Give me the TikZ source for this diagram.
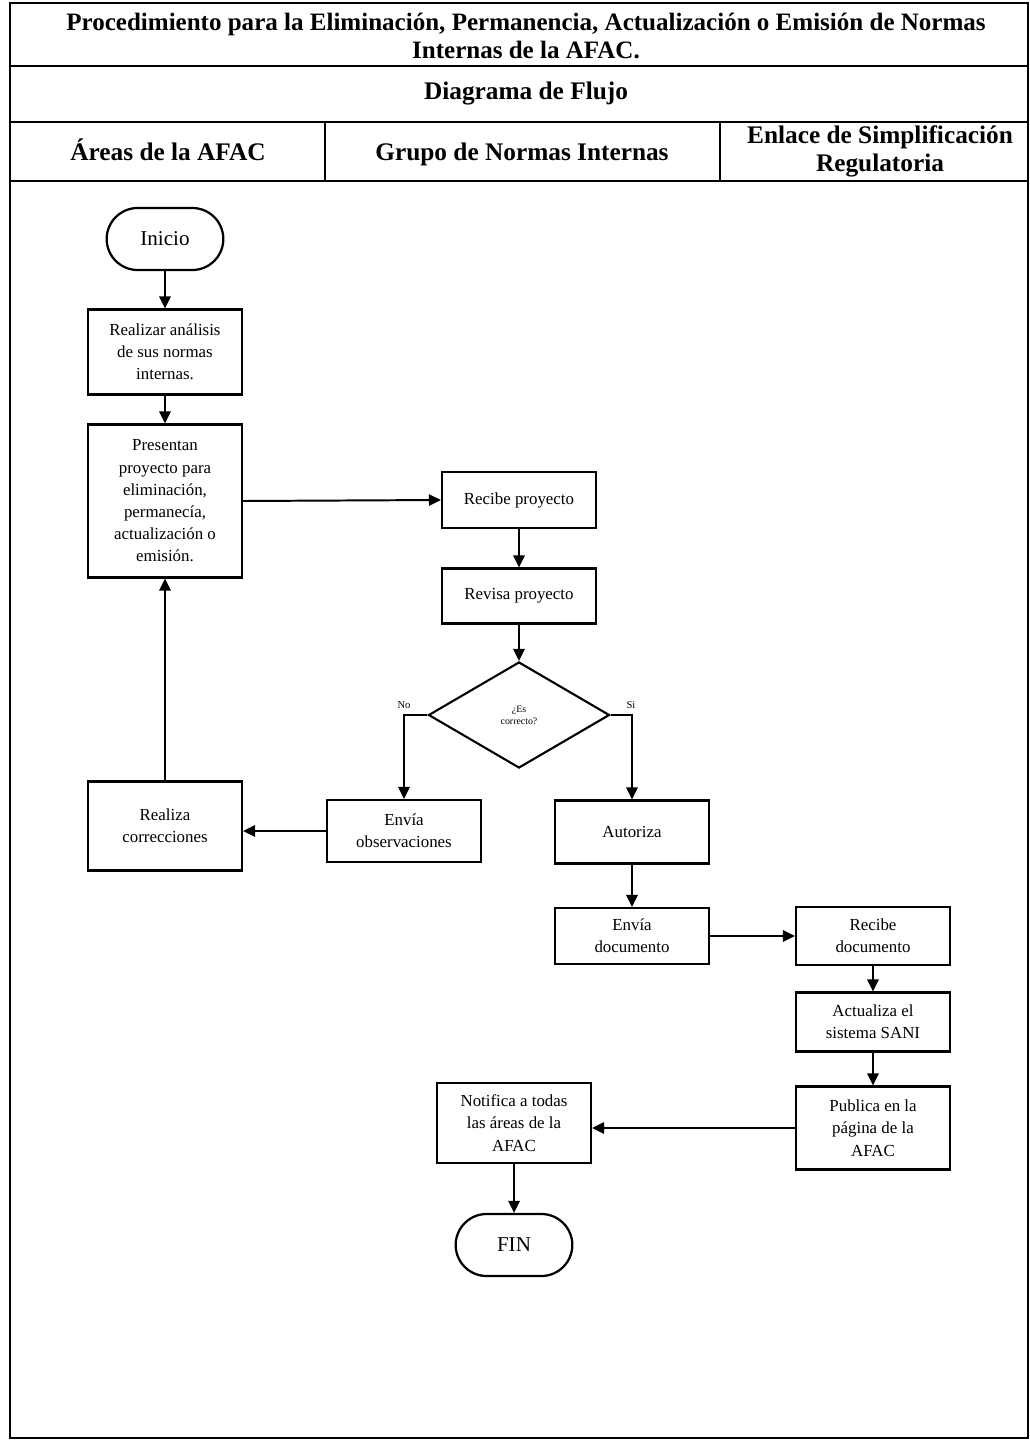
\documentclass[tikz,border=0pt]{standalone}
\usepackage{fontspec}
\setmainfont{Liberation Serif}
\usetikzlibrary{arrows.meta,shapes.geometric,shapes.misc}

\begin{document}
\begin{tikzpicture}[x=0.025cm,y=-0.025cm,
		box/.style={draw,line width=1.5pt,minimum width=3.85cm,align=center,inner sep=2pt,font=\fontsize{12}{15.8}\selectfont},
		term/.style={draw,line width=1.6pt,rounded rectangle,minimum width=3.15cm,minimum height=1.55cm,font=\fontsize{15}{18}\selectfont},
		dec/.style={draw,diamond,line width=1.5pt,minimum width=4.525cm,minimum height=2.65cm,inner sep=0pt,align=center,font=\fontsize{7}{8.5}\selectfont},
		lbl/.style={inner sep=0pt,font=\fontsize{7.5}{8}\selectfont},
		head/.style={align=center,font=\fontsize{18}{21}\selectfont\bfseries},
		arr/.style={line width=1.4pt,-{Triangle[length=8.5pt,width=8pt]}}]
		\useasboundingbox (0,0) rectangle (1030,1440);
		\draw[line width=1.2pt] (10,3) rectangle (1028,1438);
		\draw[line width=1.2pt] (10,66) -- (1028,66) (10,122) -- (1028,122) (10,181) -- (1028,181)
			(325,122) -- (325,181) (720,122) -- (720,181);
		\node[head,font=\fontsize{17.8}{20}\selectfont\bfseries] (tit) at (526,36) {Procedimiento para la Eliminación, Permanencia, Actualización o Emisión de Normas\\Internas de la AFAC.};
		\node[head] (dfl) at (526,94) {Diagrama de Flujo};
		\node[head,anchor=base] (h1) at (168,160) {Áreas de la AFAC};
		\node[head,anchor=base] (h2) at (522,160) {Grupo de Normas Internas};
		\node[head,font=\fontsize{18}{20}\selectfont\bfseries] (h3) at (880,151) {Enlace de Simplificación\\Regulatoria};
		
		\node[term] (ini) at (165,239) {Inicio};
		\node[box,minimum height=2.125cm] (ana) at (165,352) {Realizar análisis\\de sus normas\\internas.};
		\node[box,minimum height=3.825cm] (pre) at (165,501) {Presentan\\proyecto para\\eliminación,\\permanecía,\\actualización o\\emisión.};
		\node[box,minimum height=2.225cm] (cor) at (165,826) {Realiza\\correcciones};
		\node[box,minimum height=1.4cm] (rec) at (519,500) {Recibe proyecto};
		\node[box,minimum height=1.375cm] (rev) at (519,596) {Revisa proyecto};
		\node[dec] (dia) at (519,715) {¿Es\\correcto?};
		\node[lbl] (no) at (404,705) {No};
		\node[lbl] (si) at (631,705) {Si};
		\node[box,minimum height=1.55cm] (obs) at (404,831) {Envía\\observaciones};
		\node[box,minimum height=1.575cm] (aut) at (632,832) {Autoriza};
		\node[box,minimum height=1.4cm] (env) at (632,936) {Envía\\documento};
		\node[box,minimum height=1.45cm] (doc) at (873,936) {Recibe\\documento};
		\node[box,minimum height=1.475cm] (act) at (873,1022) {Actualiza el\\sistema SANI};
		\node[box,minimum height=2.075cm] (pub) at (873,1128) {Publica en la\\página de la\\AFAC};
		\node[box,minimum height=2cm] (not) at (514,1123) {Notifica a todas\\las áreas de la\\AFAC};
		\node[term] (fin) at (514,1245) {FIN};
		
		\draw[arr] (ini) -- (ana);
		\draw[arr] (ana) -- (pre);
		\draw[arr] (pre.east) -- (rec.west);
		\draw[arr] (rec) -- (rev);
		\draw[arr] (rev) -- (dia);
		\draw[arr] (dia.west) -| (obs.north);
		\draw[arr] (dia.east) -| (aut.north);
		\draw[arr] (obs.west) -- (obs.west -| cor.east);
		\draw[arr] (cor) -- (pre);
		\draw[arr] (aut) -- (env);
		\draw[arr] (env) -- (doc);
		\draw[arr] (doc) -- (act);
		\draw[arr] (act) -- (pub);
		\draw[arr] (pub.west) -- (pub.west -| not.east);
		\draw[arr] (not) -- (fin);
		\end{tikzpicture}
\end{document}
